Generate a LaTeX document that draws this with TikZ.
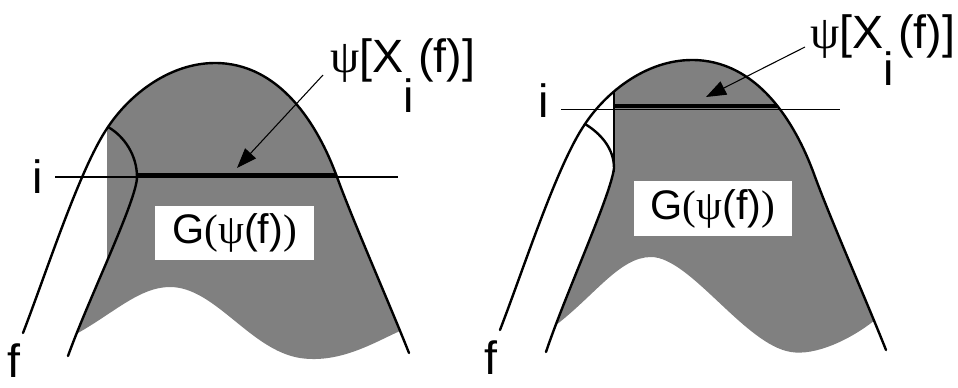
\documentclass[tikz,border=0pt]{standalone}
\usepackage{fontspec}
\setmainfont{Liberation Sans}
\newfontfamily\grk{Liberation Serif}
\usetikzlibrary{arrows.meta}
\definecolor{shade}{RGB}{128,128,128}
\def\outerpath{(23,333) .. controls (48,268) and (80,168) .. (108,127) .. controls (130,94) and (170,63) .. (215,63) .. controls (280,63) and (318,125) .. (337,177) .. controls (353,221) and (390,305) .. (409,353)}
\begin{document}
\begin{tikzpicture}[x=0.75pt,y=-0.75pt,
  curve/.style={line width=1.8pt,line cap=round},
  iline/.style={line width=1pt},
  band/.style={line width=3pt},
  vline/.style={line width=1pt},
  gfill/.style={fill=shade},
  pointer/.style={line width=0.8pt,-{Triangle[length=15pt,width=11pt]}},
  lbl/.style={inner sep=0pt,font=\fontsize{35}{35}\selectfont,anchor=base west},
  big/.style={inner sep=0pt,font=\fontsize{35}{35}\selectfont,anchor=base west},
  gbox/.style={fill=white,inner sep=0pt,minimum width=119pt,minimum height=41pt,font=\fontsize{31}{31}\selectfont}]
\useasboundingbox (0,0) rectangle (958,387);
% left grey region
\begin{scope}
  \clip \outerpath -- (409,420) -- (23,420) -- cycle;
  \clip (0,0) -- (0,333) -- (78,333) .. controls (115,312) and (140,287) .. (170,287) .. controls (215,287) and (250,350) .. (300,358) .. controls (340,364) and (375,342) .. (400,331) -- (500,331) -- (500,0) -- cycle;
  \fill[gfill] (107,0) rectangle (500,261);
  \fill[gfill] (137,177) .. controls (137,200) and (88,300) .. (68,356) -- (60,420) -- (500,420) -- (500,0) -- (137,0) -- cycle;
\end{scope}
% right grey region
\begin{scope}
  \clip[shift={(477,-3)}] \outerpath -- (409,420) -- (23,420) -- cycle;
  \clip (478,0) -- (478,325) -- (556,325) .. controls (595,295) and (620,257) .. (651,257) .. controls (690,257) and (745,345) .. (791,352) .. controls (815,356) and (850,340) .. (875,320) -- (958,320) -- (958,0) -- cycle;
  \fill[gfill] (614,168) .. controls (611,195) and (565,295) .. (546,352) -- (540,420) -- (958,420) -- (958,0) -- (614,0) -- cycle;
  \draw[vline] (614,0) -- (614,172);
\end{scope}
% curves
\draw[curve] \outerpath;
\draw[curve,shift={(477,-3)}] \outerpath;
\draw[curve] (108,127) .. controls (124,136) and (137,155) .. (137,177) .. controls (137,200) and (88,300) .. (68,356);
\draw[curve] (585,124) .. controls (600,133) and (614,148) .. (614,168) .. controls (611,195) and (565,295) .. (546,352);
% level lines
\draw[iline] (55,177) -- (398,177);
\draw[band] (137,174.5) -- (336,174.5);
\draw[iline] (561,109.5) -- (840,109.5);
\draw[band] (614,106) -- (777,106);
% labels
\node[lbl] (psiL) at (330,72) {{\grk ψ}[X\rlap{\raisebox{-30pt}{i}}\hspace{11pt}(f)]};
\node[lbl] (psiR) at (810,48) {{\grk ψ}[X\rlap{\raisebox{-28pt}{i}}\hspace{11pt}(f)]};
\coordinate (tipL) at (237,168);
\coordinate (tipR) at (706,97);
\draw[pointer] ([shift={(-7,3)}]psiL.base west) -- (tipL);
\draw[pointer] ([shift={(-5,-1)}]psiR.base west) -- (tipR);
\node[big] (iL) at (32,193) {i};
\node[big] (iR) at (538,117) {i};
\node[big] (fL) at (7,377) {f};
\node[big] (fR) at (484,374) {f};
\node[gbox] (gL) at (234.5,233) {G{\grk(ψ}(f){\grk)}};
\node[gbox] (gR) at (713,208.5) {G{\grk(ψ}(f){\grk)}};
\end{tikzpicture}
\end{document}
